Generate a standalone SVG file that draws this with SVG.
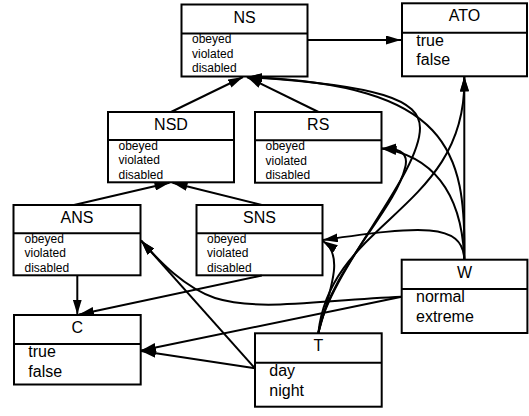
<svg xmlns="http://www.w3.org/2000/svg" width="529" height="416" viewBox="0 0 529 416">
<style>
.box{fill:#fff;stroke:#000;stroke-width:2}
.div{stroke:#000;stroke-width:2}
.title{font-family:"Liberation Sans",Arial,sans-serif;font-size:16px;text-anchor:middle;fill:#000}
.sm{font-family:"Liberation Sans",Arial,sans-serif;font-size:12px;fill:#000}
.lg{font-family:"Liberation Sans",Arial,sans-serif;font-size:16px;fill:#000}
.edge{fill:none;stroke:#000;stroke-width:2;marker-end:url(#arr)}
</style>
<defs>
<marker id="arr" markerUnits="userSpaceOnUse" markerWidth="15" markerHeight="9" refX="15" refY="4.5" orient="auto">
<path d="M0,0 L15,4.5 L0,9 z" fill="#000"/>
</marker>
</defs>
<rect width="529" height="416" fill="#fff"/>
<g id="NS">
<rect class="box" x="181.5" y="4.5" width="126" height="72"/>
<line class="div" x1="181.5" y1="33.5" x2="307.5" y2="33.5"/>
<text class="title" x="244.5" y="22.5">NS</text>
<text class="sm" x="192" y="43.2">obeyed</text>
<text class="sm" x="192" y="57.7">violated</text>
<text class="sm" x="192" y="72.2">disabled</text>
</g>
<g id="ATO">
<rect class="box" x="402" y="3.3" width="125" height="73"/>
<line class="div" x1="402" y1="32.7" x2="527" y2="32.7"/>
<text class="title" x="464.5" y="21.3">ATO</text>
<text class="lg" x="416.3" y="45.7">true</text>
<text class="lg" x="416.3" y="65.4">false</text>
</g>
<g id="NSD">
<rect class="box" x="108" y="112" width="126" height="70.3"/>
<line class="div" x1="108" y1="140" x2="234" y2="140"/>
<text class="title" x="171" y="130">NSD</text>
<text class="sm" x="118.5" y="149.7">obeyed</text>
<text class="sm" x="118.5" y="164.2">violated</text>
<text class="sm" x="118.5" y="178.7">disabled</text>
</g>
<g id="RS">
<rect class="box" x="255" y="112" width="126.5" height="70.7"/>
<line class="div" x1="255" y1="140.3" x2="381.5" y2="140.3"/>
<text class="title" x="318.2" y="130">RS</text>
<text class="sm" x="265.5" y="150">obeyed</text>
<text class="sm" x="265.5" y="164.5">violated</text>
<text class="sm" x="265.5" y="179">disabled</text>
</g>
<g id="ANS">
<rect class="box" x="13.5" y="205" width="127" height="70.3"/>
<line class="div" x1="13.5" y1="233.2" x2="140.5" y2="233.2"/>
<text class="title" x="77" y="223">ANS</text>
<text class="sm" x="24.5" y="242.9">obeyed</text>
<text class="sm" x="24.5" y="257.4">violated</text>
<text class="sm" x="24.5" y="271.9">disabled</text>
</g>
<g id="SNS">
<rect class="box" x="196.5" y="205" width="126" height="70.3"/>
<line class="div" x1="196.5" y1="233.2" x2="322.5" y2="233.2"/>
<text class="title" x="259.5" y="223">SNS</text>
<text class="sm" x="207" y="242.9">obeyed</text>
<text class="sm" x="207" y="257.4">violated</text>
<text class="sm" x="207" y="271.9">disabled</text>
</g>
<g id="C">
<rect class="box" x="14" y="315" width="126.7" height="69.5"/>
<line class="div" x1="14" y1="344" x2="140.7" y2="344"/>
<text class="title" x="77.3" y="333">C</text>
<text class="lg" x="28.3" y="356.8">true</text>
<text class="lg" x="28.3" y="376.5">false</text>
</g>
<g id="T">
<rect class="box" x="255" y="333.3" width="126.7" height="73.4"/>
<line class="div" x1="255" y1="362.8" x2="381.7" y2="362.8"/>
<text class="title" x="318.3" y="351.3">T</text>
<text class="lg" x="269.3" y="376">day</text>
<text class="lg" x="269.3" y="395.7">night</text>
</g>
<g id="W">
<rect class="box" x="401.7" y="259.7" width="125.7" height="73.3"/>
<line class="div" x1="401.7" y1="289" x2="527.4" y2="289"/>
<text class="title" x="464.5" y="277.7">W</text>
<text class="lg" x="416" y="302.3">normal</text>
<text class="lg" x="416" y="322.3">extreme</text>
</g>
<g id="connectors">
<path class="edge" d="M308,40 L401,40"/>
<path class="edge" d="M171,112 L243,77"/>
<path class="edge" d="M318.5,112 L247,77"/>
<path class="edge" d="M74,205 L169.5,182.8"/>
<path class="edge" d="M261.8,205 L172.5,182.8"/>
<path class="edge" d="M77.3,275.5 L77.3,314.5"/>
<path class="edge" d="M261.8,275.5 L79,314.5"/>
<path class="edge" d="M401.7,296.7 L141,350.5"/>
<path class="edge" d="M255,368.3 L141,351"/>
<path class="edge" d="M255,368.3 L141,240.5"/>
<path class="edge" d="M401.7,296.7 C320,300 260,312 215,298 C185,288 160,262 141,240.5"/>
<path class="edge" d="M464.3,259.7 C463,222 420,226 322.8,240"/>
<path class="edge" d="M318.3,333.3 C330,290 345,255 322.8,241"/>
<path class="edge" d="M318.3,333.3 C330,220 468,210 464.3,76.5"/>
<path class="edge" d="M318.3,333.3 C330,270 420,175 420,128 C420,100 380,85 247,77"/>
<path class="edge" d="M318.3,333.3 C330,270 395,210 405,168 C410,150 395,148 381.5,148.5"/>
<path class="edge" d="M464.3,259.7 C466,150 450,85 247,77"/>
<path class="edge" d="M464.3,259.7 C462,190 430,155 381.5,148.5"/>
<path class="edge" d="M464.3,259.7 L464.3,76.5"/>
</g>
</svg>
